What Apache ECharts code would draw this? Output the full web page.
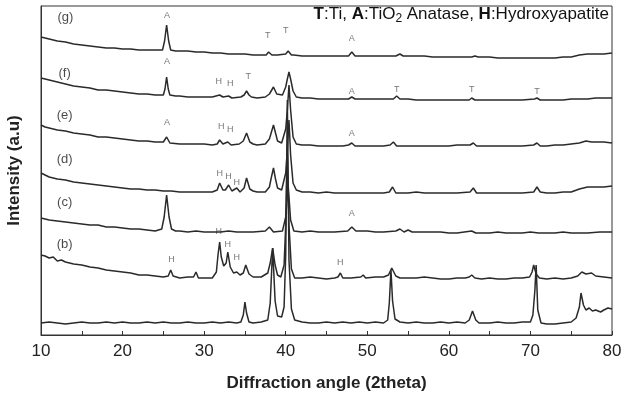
<!DOCTYPE html>
<html>
<head>
<meta charset="utf-8">
<script src="https://cdn.jsdelivr.net/npm/echarts@6/dist/echarts.min.js"></script>
<style>
    html, body { margin: 0; padding: 0; background: #fff; }
    #chart { width: 623px; height: 397px; }
</style>
</head>
<body>
<div id="chart"></div>
<script>
    // 2theta / intensity (arbitrary units, traces stacked by offset)
    var traceA = [[10,12],[11,13],[12,12],[13,11],[14,12],[15,13],[16,12],[17,12],[18,13],[19,12],[20,13],[21,12],[22,12],[23,13],[24,12],[25,13],[26,12],[27,12],[28,13],[29,12],[30,12],[31,13],[32,12],[33,13],[34,12],[34.5,13],[34.8,20],[35.0,33],[35.2,22],[35.5,13],[36,12],[37,13],[37.8,15],[38.1,32],[38.4,87],[38.7,34],[39.0,19],[39.5,18],[39.8,28],[40.0,80],[40.2,235],[40.4,75],[40.7,26],[41.1,15],[42,13],[43,12],[44,12],[45,13],[46,12],[47,13],[48,12],[49,13],[50,12],[51,13],[52,12],[52.5,15],[52.7,32],[52.9,65],[53.1,34],[53.4,16],[54,13],[55,12],[56,13],[57,12],[58,12],[59,13],[60,12],[61,13],[62,12],[62.5,15],[62.9,24],[63.3,15],[63.7,12],[65,12],[66,13],[67,12],[68,12],[69,13],[70,13],[70.3,20],[70.55,45],[70.7,70],[70.9,25],[71.3,12],[72,11],[73,11],[74,12],[75,13],[75.6,17],[76.0,28],[76.2,42],[76.5,30],[76.8,25],[77.2,27],[77.6,24],[78,25],[78.6,23],[79,25],[79.5,27],[80,26]];
    var traceB = [[10,80],[10.5,79],[11,77],[11.5,78],[12,74],[12.5,75],[13,73],[14,71],[15,70],[16,68],[17,67],[18,65],[19,64],[20,63],[21,62],[22,60],[23,60],[24,59],[25,58],[25.6,59],[25.9,65],[26.2,59],[27,57],[28,58],[28.7,58],[29.0,63],[29.3,57],[30,57],[31,57],[31.5,63],[31.7,80],[31.9,93],[32.1,78],[32.4,69],[32.7,72],[32.9,83],[33.2,68],[33.6,62],[34.0,63],[34.4,60],[34.8,62],[35.1,70],[35.5,61],[36,58],[37,58],[37.8,62],[38.1,72],[38.4,87],[38.7,70],[39.0,60],[39.4,58],[39.8,70],[40.0,110],[40.2,180],[40.4,110],[40.7,66],[41.1,57],[42,57],[43,58],[44,57],[45,56],[46,57],[46.4,58],[46.7,62],[47,57],[48,57],[49.2,58],[49.5,60],[49.8,57],[51,58],[52,58],[52.6,60],[53.0,67],[53.5,59],[54,57],[55,57],[56,57],[57,58],[58,57],[59,56],[60,56],[61,57],[62,57],[62.5,58],[62.8,60],[63.2,57],[64,56],[65,57],[66,56],[67,56],[68,57],[69,57],[69.9,58],[70.2,63],[70.4,70],[70.7,61],[71.1,57],[72,56],[73,57],[74,56],[75,57],[75.8,59],[76.3,63],[76.8,61],[77.5,62],[78,59],[79,58],[80,57]];
    var traceC = [[10,117],[10.5,116],[11,115],[12,114],[13,113],[14,112],[15,111],[16,110],[17,110],[18,108],[19,108],[20,107],[21,106],[22,106],[23,105],[24,104],[24.8,106],[25.1,118],[25.4,140],[25.7,118],[26.0,106],[26.5,104],[27,104],[28,103],[29,104],[30,103],[31,103],[32,103],[33,104],[34,103],[35,103],[36,103],[37.5,104],[38.0,108],[38.5,103],[39.6,104],[40.0,118],[40.3,150],[40.6,115],[41,104],[42,103],[43,104],[44,103],[45,103],[46,103],[47.6,104],[48.1,108],[48.6,104],[50,104],[51,103],[52,103],[53.5,104],[54.0,106],[54.5,103],[55.0,105],[55.5,103],[57,103],[58,103],[59,103],[60,102],[61,102],[62.8,104],[63.3,102],[64,102],[65,102],[66,103],[67,102],[68,102],[69,102],[70,103],[71,102],[72,102],[73,102],[74,103],[75,102],[76,102],[77,102],[78.5,103],[80,103]];
    var traceD = [[10,162],[10.5,160],[11,158],[12,156],[13,155],[14,153],[15,152],[16,151],[17,150],[18,149],[19,148],[20,147],[21,146],[22,146],[23,145],[24,145],[25,144],[26,144],[27,143],[28,143],[29,143],[30,143],[31,143],[31.6,145],[31.9,152],[32.3,145],[32.6,145],[33.0,150],[33.4,144],[34.0,147],[34.4,143],[34.9,147],[35.2,157],[35.6,146],[36.0,144],[36.5,143],[37.5,143],[38.0,148],[38.25,158],[38.5,167],[38.75,156],[39.0,147],[39.5,145],[40.0,162],[40.2,185],[40.4,215],[40.6,180],[40.9,152],[41.3,145],[42,143],[43,143],[44,142],[45,143],[46,142],[47,142],[48,142],[49,142],[50,142],[51,142],[52,142],[52.7,143],[53.1,148],[53.5,142],[54,142],[55,142],[56,143],[57,142],[58,142],[59,142],[60,142],[61,142],[62.6,143],[63.0,147],[63.4,142],[64,142],[65,142],[66,142],[67,142],[68,142],[69,142],[70.4,143],[70.8,148],[71.2,143],[72,142],[73,142],[74,143],[75,143],[76,146],[77,148],[78,148],[79,148],[80,149]];
    var traceE = [[10,210],[10.5,208],[11,207],[12,205],[13,204],[14,202],[15,201],[16,200],[17,198],[18,198],[19,197],[20,196],[21,195],[22,194],[23,194],[24,193],[25.0,193],[25.4,198],[25.8,192],[27,191],[28,191],[29,191],[30,191],[31,190],[31.6,191],[31.9,195],[32.3,191],[32.9,193],[33.3,190],[34.3,191],[34.8,194],[35.2,202],[35.6,193],[36.0,191],[36.5,190],[37.5,191],[38.0,196],[38.25,203],[38.5,210],[38.75,202],[39.0,194],[39.5,192],[40.0,206],[40.2,225],[40.4,250],[40.6,225],[40.9,198],[41.3,191],[42,190],[43,190],[44,189],[45,189],[46,189],[47,189],[47.7,190],[48.1,192],[48.5,189],[49,189],[50,189],[51,189],[52,189],[52.8,190],[53.2,193],[53.6,189],[54,189],[55,189],[56,189],[57,189],[58,189],[59,189],[60,189],[61,190],[62.6,190],[63.0,192],[63.4,189],[64,189],[65,189],[66,189],[67,189],[68,189],[69,189],[70.4,190],[70.8,192],[71.2,189],[72,189],[73,190],[74,190],[75,191],[76,192],[76.8,194],[77.5,193],[78,193],[79,193],[80,192]];
    var traceF = [[10,257],[10.5,256],[11,255],[12,253],[13,251],[14,249],[15,248],[16,247],[17,245],[18,245],[19,244],[20,243],[21,242],[22,241],[23,241],[24,240],[25.0,240],[25.2,246],[25.4,258],[25.6,246],[25.8,240],[26.5,239],[27,239],[28,238],[29,238],[30,238],[31,238],[31.9,240],[32.3,238],[33.0,239],[33.4,237],[34.5,238],[34.9,240],[35.2,244],[35.5,240],[35.8,238],[36.5,237],[37.5,238],[38.0,241],[38.5,248],[38.9,241],[39.6,240],[40.0,248],[40.2,256],[40.4,263],[40.6,256],[40.9,244],[41.3,238],[42,237],[43,237],[44,236],[45,236],[46,236],[47,236],[47.7,236],[48.1,238],[48.5,236],[49,236],[50,236],[51,236],[52,236],[53.2,236],[53.6,239],[54.0,236],[55,236],[56,235],[57,235],[58,235],[59,235],[60,235],[61,235],[62.5,235],[62.8,237],[63.2,235],[64,235],[65,235],[66,235],[67,235],[68,235],[69,235],[70.5,236],[70.8,237],[71.2,235],[72,235],[73,235],[74,235],[75,236],[76,236],[77,236],[78,237],[79,237],[80,237]];
    var traceG = [[10,298],[10.5,297],[11,296],[12,294],[13,293],[14,291],[15,290],[16,289],[17,288],[18,287],[19,287],[20,286],[21,286],[22,285],[23,285],[24,285],[24.9,285],[25.15,294],[25.4,310],[25.65,294],[25.9,285],[26.5,284],[27,284],[28,284],[29,283],[30,283],[31,282],[32,282],[33,281],[34,281],[35,281],[36,280],[37,280],[37.6,280],[37.9,283],[38.3,280],[39,280],[40.0,281],[40.3,284],[40.7,280],[41,280],[42,279],[43,279],[44,279],[45,279],[46,279],[47,279],[47.7,279],[48.1,283],[48.5,279],[49,279],[50,279],[51,279],[52,279],[53.5,279],[54.0,281],[54.4,279],[55,279],[56,279],[57,279],[58,278],[59,278],[60,278],[61,278],[62,278],[62.8,278],[63.2,279],[63.6,278],[65,278],[66,277],[67,277],[68,277],[69,277],[70,277],[71,277],[72,277],[73,277],[74,278],[75,278],[76,280],[77,281],[78,281],[79,281],[80,282]];

    // trace names and where they sit
    var traceNames = ['(g)', '(f)', '(e)', '(d)', '(c)', '(b)'];
    var traceNamePos = [[13.0,318],[12.9,262],[12.9,220],[12.9,176],[12.9,133],[12.9,91]];

    // phase letters above peaks: [2theta, y, letter]
    var peakMarks = [
        [25.45,319,'A'],[37.8,299,'T'],[40.0,304,'T'],[48.1,296,'A'],
        [25.45,273,'A'],[31.8,253,'H'],[33.2,251,'H'],[35.4,258,'T'],[48.1,243,'A'],[53.6,245,'T'],[62.8,245,'T'],[70.8,243,'T'],
        [25.45,212,'A'],[32.1,208,'H'],[33.2,205,'H'],[48.1,201,'A'],
        [31.9,161,'H'],[33.0,158,'H'],[34.0,152,'H'],
        [48.1,121,'A'],
        [26.0,75,'H'],[31.8,103,'H'],[32.9,90,'H'],[34.0,77,'H'],[46.7,72,'H']
    ];

    var traces = [traceA, traceB, traceC, traceD, traceE, traceF, traceG];

    var chart = echarts.init(document.getElementById('chart'));

    var series = [];
    traces.forEach(function(t) {
        series.push({
            type: 'line',
            data: t,
            symbol: 'none',
            silent: true,
            lineStyle: { color: '#2a2a2a', width: 1.5 }
        });
    });

    series.push({
        type: 'scatter',
        symbolSize: 0,
        silent: true,
        data: traceNames.map(function(n, i) {
            return { value: traceNamePos[i], name: n };
        }),
        label: {
            show: true,
            position: 'inside',
            formatter: '{b}',
            fontFamily: 'Liberation Sans',
            fontSize: 13,
            color: '#1a1a1a'
        }
    });

    series.push({
        type: 'scatter',
        symbolSize: 0,
        silent: true,
        data: peakMarks.map(function(p) {
            return { value: [p[0], p[1]], name: p[2] };
        }),
        label: {
            show: true,
            position: 'inside',
            formatter: '{b}',
            fontFamily: 'Liberation Sans',
            fontSize: 9,
            color: '#555'
        }
    });

    chart.setOption({
        backgroundColor: '#fff',
        animation: false,
        grid: {
            left: 41,
            right: 11,
            top: 6,
            bottom: 62,
            outerBoundsMode: 'none',
            show: true,
            borderColor: '#333',
            borderWidth: 1
        },
        xAxis: {
            type: 'value',
            min: 10,
            max: 80,
            interval: 10,
            name: 'Diffraction angle (2theta)',
            nameLocation: 'middle',
            nameGap: 40,
            nameTextStyle: {
                fontFamily: 'Liberation Sans',
                fontWeight: 'bold',
                fontSize: 17,
                color: '#222'
            },
            axisLine: { lineStyle: { color: '#333' } },
            axisTick: { inside: true, length: 4, lineStyle: { color: '#333' } },
            minorTick: { show: true, splitNumber: 2, length: 4, lineStyle: { color: '#333' } },
            splitLine: { show: false },
            axisLabel: {
                fontFamily: 'Liberation Sans',
                fontSize: 17,
                color: '#222',
                margin: 8
            }
        },
        yAxis: {
            type: 'value',
            min: 0,
            max: 329,
            name: 'Intensity (a.u)',
            nameLocation: 'middle',
            nameGap: 18,
            nameTextStyle: {
                fontFamily: 'Liberation Sans',
                fontWeight: 'bold',
                fontSize: 17,
                color: '#222'
            },
            axisLine: { show: true, lineStyle: { color: '#333' } },
            axisTick: { show: false },
            axisLabel: { show: false },
            splitLine: { show: false }
        },
        graphic: [{
            type: 'text',
            right: 14,
            top: 6,
            style: {
                text: '{b|T}:Ti, {b|A}:TiO{s|2} Anatase, {b|H}:Hydroxyapatite',
                fontFamily: 'Liberation Sans',
                fontSize: 17,
                fill: '#111',
                rich: {
                    b: { fontWeight: 'bold', fontSize: 17, fontFamily: 'Liberation Sans' },
                    s: { fontSize: 12, fontFamily: 'Liberation Sans', padding: [9, 0, 0, 0] }
                }
            }
        }],
        series: series
    });
</script>
</body>
</html>
